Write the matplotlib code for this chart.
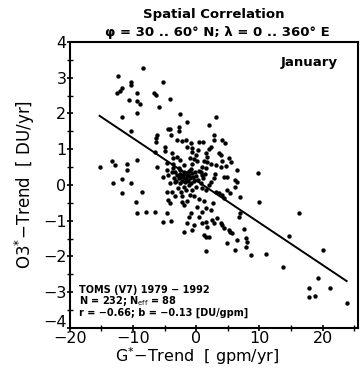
import numpy as np
import matplotlib
matplotlib.use("Agg")
import matplotlib.pyplot as plt
import matplotlib.transforms as mtransforms
from matplotlib.ticker import MultipleLocator

# G*-trend [gpm/yr] and O3*-trend [DU/yr]
g_trend = [
    -8.4, -12.4, -10.4, -10.3, -11.7, -12.5, -12.0, -9.4, -6.7, -6.4, -5.3, -10.6, -9.4, -8.9, -5.9, -9.4,
    -11.8, -10.3, -6.2, -6.3, -6.4, -4.5, -6.6, -5.0, -4.9, -15.3, -13.4, -12.9, -11.0, -11.0, -9.3, -6.2,
    -4.6, -4.7, -5.3, -4.5, -13.1, -11.8, -10.4, -11.7, -8.6, -9.6, -9.3, -7.9, -6.5, -5.2, -4.0, -4.7,
    -4.7, -4.4, -4.1,
    -4.2, -2.6, -1.5, 3.1, 2.0, -4.1, -2.8, -2.8, -4.0, -3.1, -2.3, -1.7, -0.9, -1.5, 0.4, 1.0, 2.8, 2.8,
    4.1, 4.5, 2.3, -3.9, -3.6, -3.1, -2.5, -0.7, -0.1, -1.0, -0.4, 0.1, 1.5, 1.7, 1.2, 1.7, 2.3, 3.6, 3.9,
    4.1, 5.2, 5.5, 3.1, 3.9, 4.7, 6.5, 9.7, -3.6, 4.4, 4.9, 6.2, 2.8,
    -3.3, -2.5, -2.0, -1.5, -1.1, -0.7, 0.9, 1.5, 0.7, 0.9, 2.0, -0.6, 0.3,
    -4.2, -3.3, -2.5, -2.0, -1.2, -0.6, -0.1, 0.9, 1.5, 2.0, 2.3, 3.1, 3.6, 4.1, 4.4, 4.9, 5.4, 6.2, 6.5,
    7.0, -3.9, -2.3, -2.0, -1.5, -0.9, -1.2, -1.5, -2.0, 0.1, 0.9, 1.5, 2.3, 0.4, 0.9, 1.5, 1.7, -0.4,
    -0.7, 1.2, 1.5, 2.0, 2.5, 2.8, 3.3, 3.9, 4.1, 4.4, 5.2, 5.4, 5.7, 4.9, 6.5, 6.2, 6.8, 7.0, 7.6, 7.8,
    8.1, 7.8, 8.6, 1.6, 11.0, 10.0,
    16.3, 14.7, 20.0, 13.8, 19.3, 17.9, 21.1, 17.8, 18.8, 23.8,
    -3.8, -3.5, -3.2, -3.0, -2.8, -2.6, -2.4, -2.2, -2.1, -1.9, -1.8, -1.7, -1.6, -1.4, -1.3, -1.2, -1.0,
    -0.9, -0.8, -0.5, -0.3, -0.2, 0.0, 0.3, 0.5, 0.8, 1.1, 1.4, -2.9, -2.4, -1.6, -1.0, -0.3, 0.5, 1.2,
    -3.4, -2.7, -1.9, -3.6, -0.6, 2.7, 3.0, -2.2,
]
o3_trend = [
    3.28, 3.05, 2.88, 2.80, 2.70, 2.58, 2.62, 2.57, 2.56, 2.52, 2.88, 2.38, 2.36, 2.26, 2.19, 2.02,
    1.89, 1.51, 1.40, 1.30, 1.21, 1.56, 0.93, 1.05, 0.96, 0.51, 0.68, 0.56, 0.58, 0.42, 0.70, 0.51,
    0.61, 0.42, 0.21, 0.28, 0.05, 0.16, 0.06, -0.23, -0.20, -0.49, -0.79, -0.76, -0.75, -1.03, -1.00, -0.79,
    -0.21, -0.42, -0.51,
    2.41, 1.98, 1.77, 1.89, 1.68, 1.56, 1.61, 1.52, 1.40, 1.26, 1.24, 1.26, 1.17, 1.07, 1.21, 1.21, 1.40, 1.26,
    1.26, 1.17, 1.07, 0.89, 0.75, 0.79, 0.70, 0.93, 0.84, 0.75, 0.72, 0.68, 0.89, 0.79, 0.68, 0.63, 0.58, 0.89, 0.84,
    0.68, 0.75, 0.65, 0.56, 0.51, 0.53, 0.42, 0.34, 0.47, 0.23, 0.23, 0.14, 0.19,
    0.37, 0.42, 0.37, 0.33, 0.28, 0.34, 0.51, 0.47, 0.37, 0.28, 1.00, 1.03, 0.97,
    0.05, 0.09, 0.06, -0.05, 0.00, -0.14, -0.05, -0.09, -0.14, 0.00, 0.09, -0.19, -0.23, -0.28, -0.37, -0.14, -0.23, -0.05, 0.09,
    -0.33, -0.19, -0.47, -0.56, -0.44, -0.79, -0.89, -1.07, -1.31, -0.61, -0.75, -0.65, -0.70, -0.89, -1.07, -1.03, -1.17, -1.12,
    -1.26, -1.40, -1.45, -1.45, -0.98, -1.07, -0.93, -1.07, -1.12, -1.21, -1.26, -1.31, -1.35, -1.63, -1.54, -1.82, -0.89, -0.79, -1.24, -1.49,
    -1.59, -1.73, -1.96, -1.85, -1.93, -0.49,
    -0.79, -1.42, -1.82, -2.30, -2.61, -2.89, -2.89, -3.14, -3.10, -3.31,
    0.35, 0.20, 0.12, 0.28, 0.18, 0.30, 0.22, 0.12, 0.28, 0.20, 0.08, 0.32, 0.16, 0.24, 0.10, 0.38, 0.18,
    0.05, 0.45, 0.22, 0.12, 0.36, 0.25, 0.15, 0.40, 0.05, 0.20, 0.30, -0.10, -0.20, -0.15, -0.28, -0.30, -0.38, -0.45,
    -0.32, 0.48, 0.55, 0.58, 0.58, -0.50, 0.30, -0.32,
]

x_ticks = [-20, -10, 0, 10, 20]
y_ticks = [-4, -3, -2, -1, 0, 1, 2, 3, 4]
info_lines = ["TOMS (V7) 1979 \u2212 1992",
              "N = 232; N$_{\\mathsf{eff}}$ = 88",
              "r = \u22120.66; b = \u22120.13 [DU/gpm]"]

x = np.array(g_trend)
y = np.array(o3_trend)

plt.rcParams['font.family'] = ['DejaVu Sans']
fig = plt.figure(figsize=(3.62, 3.68), dpi=100)
ax = fig.add_axes([0.193, 0.109, 0.796, 0.777])

ax.scatter(x, y, s=10, color='black', linewidths=0, zorder=3)

# regression line from the data
slope, icept = np.polyfit(x, y, 1)
xl = np.array([x.min(), x.max()])
ax.plot(xl, icept + slope * xl, color='black', lw=1.4, zorder=2)

ax.set_xlim(-20, 25.6)
ax.set_ylim(-4, 4)
ax.set_xticks(x_ticks)
ax.set_yticks(y_ticks)
ax.set_xticklabels([str(v).replace('-', '\u2212') for v in x_ticks])
ax.set_yticklabels([str(v).replace('-', '\u2212') for v in y_ticks])
ax.xaxis.set_minor_locator(MultipleLocator(5))
ax.yaxis.set_minor_locator(MultipleLocator(0.5))
ax.tick_params(axis='both', which='major', labelsize=11.5, width=1.2, length=5, direction='inout', pad=0)
ax.tick_params(axis='both', which='minor', width=1.0, length=4, direction='inout')
for sp in ax.spines.values():
    sp.set_linewidth(1.5)

# lift the lowest y tick label a little so it clears the "-20"
lbl = ax.get_yticklabels()[0]
lbl.set_transform(lbl.get_transform() + mtransforms.ScaledTranslation(0, 5 / 72, fig.dpi_scale_trans))

ax.set_xlabel("G$^{*}$\u2212Trend  [ gpm/yr]", fontsize=11.5)
ax.set_ylabel("O3$^{*}$\u2212Trend  [ DU/yr]", fontsize=12)
ax.xaxis.set_label_coords(0.44, -0.062)
ax.yaxis.set_label_coords(-0.115, 0.5)

fig.text(0.59, 0.944, "Spatial Correlation", ha='center', va='bottom', fontsize=9.5, fontweight='bold')
fig.text(0.60, 0.893, "\u03c6 = 30 .. 60\u00b0 N; \u03bb = 0 .. 360\u00b0 E", ha='center', va='bottom',
         fontsize=9.5, fontweight='bold')
ax.text(0.93, 0.95, "January", transform=ax.transAxes, ha='right', va='top', fontsize=9.5, fontweight='bold')
ax.text(0.03, 0.035, "\n".join(info_lines), transform=ax.transAxes, ha='left', va='bottom',
        fontsize=7, fontweight='bold', linespacing=0.95)

fig.savefig("out.png", dpi=100)
